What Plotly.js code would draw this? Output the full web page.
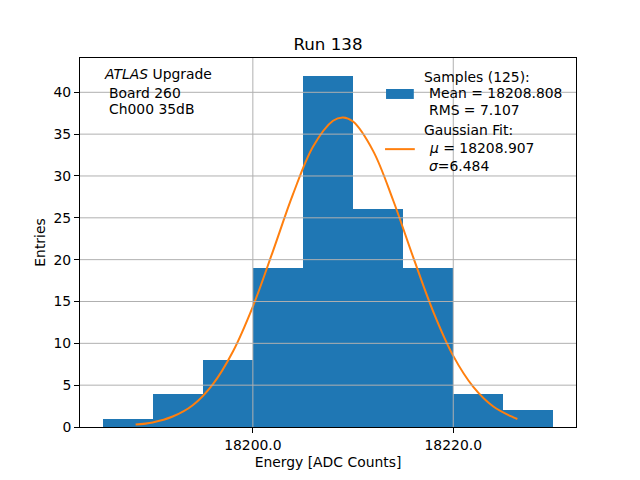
<!DOCTYPE html>
<html>
<head>
<meta charset="utf-8">
<script src="https://cdn.plot.ly/plotly-3.0.1.min.js"></script>
<style>
  html, body { margin: 0; padding: 0; background: #ffffff; }
  #chart { width: 640px; height: 480px; }
</style>
</head>
<body>
<div id="chart"></div>
<script>
// histogram bins (centres, width 5 ADC counts) and their entries
const binCentres = [18187.5, 18192.5, 18197.5, 18202.5, 18207.5, 18212.5, 18217.5, 18222.5, 18227.5];
const binCounts  = [1, 4, 8, 19, 42, 26, 19, 4, 2];

// gaussian fit curve
const fitX = [18188.3, 18190, 18192, 18194, 18196, 18198, 18200, 18202, 18204, 18206, 18208, 18209,
              18210, 18212, 18214, 18216, 18218, 18220, 18222, 18224, 18226, 18226.4];
const fitY = [0.3, 0.55, 1.25, 2.6, 5.1, 9.0, 14.4, 21.0, 27.8, 33.5, 36.6, 37.0,
              36.5, 33.0, 27.1, 20.3, 13.8, 8.5, 4.8, 2.45, 1.15, 0.95];

const xTickVals = [18200, 18220];
const xTickText = ['18200.0', '18220.0'];
const yTickVals = [0, 5, 10, 15, 20, 25, 30, 35, 40];

const font = 'DejaVu Sans, Liberation Sans, sans-serif';

const traceHist = {
    x: binCentres, y: binCounts, type: 'bar', width: 5,
    marker: { color: '#1f77b4', line: { width: 0 } },
    hoverinfo: 'skip', showlegend: false
};

const traceFit = {
    x: fitX, y: fitY, type: 'scatter', mode: 'lines',
    line: { color: '#ff7f0e', width: 2, shape: 'spline' },
    hoverinfo: 'skip', showlegend: false
};

// grid drawn on top of the bars like matplotlib does here
const gridShapes = [];
xTickVals.forEach(v => gridShapes.push({
    type: 'line', xref: 'x', yref: 'paper', x0: v, x1: v, y0: 0, y1: 1,
    line: { color: '#b0b0b0', width: 1 }, layer: 'above'
}));
yTickVals.filter(v => v > 0).forEach(v => gridShapes.push({
    type: 'line', xref: 'paper', yref: 'y', x0: 0, x1: 1, y0: v, y1: v,
    line: { color: '#b0b0b0', width: 1 }, layer: 'above'
}));

// hand made legend handles
const legendShapes = [
    { type: 'rect', xref: 'paper', yref: 'paper', x0: 0.617, x1: 0.673, y0: 0.889, y1: 0.916,
      fillcolor: '#1f77b4', line: { width: 0 }, layer: 'above' },
    { type: 'line', xref: 'paper', yref: 'paper', x0: 0.615, x1: 0.675, y0: 0.753, y1: 0.753,
      line: { color: '#ff7f0e', width: 2 }, layer: 'above' }
];

function txt(text, x, y) {
    return { text: text, xref: 'paper', yref: 'paper', x: x, y: y,
             xanchor: 'left', yanchor: 'middle', showarrow: false,
             font: { family: font, size: 13.9, color: '#000000' } };
}

const annotations = [
    txt('<i>ATLAS</i> Upgrade', 0.0444, 0.957),
    txt('Board 260', 0.0545, 0.906),
    txt('Ch000 35dB', 0.0545, 0.8625),
    txt('Samples (125):', 0.6896, 0.949),
    txt('Mean = 18208.808', 0.6996, 0.906),
    txt('RMS = 7.107', 0.6996, 0.860),
    txt('Gaussian Fit:', 0.6896, 0.8056),
    txt('<i>μ</i> = 18208.907', 0.6996, 0.7568),
    txt('<i>σ</i>=6.484', 0.6996, 0.708)
];

const layout = {
    width: 640, height: 480,
    paper_bgcolor: '#ffffff', plot_bgcolor: '#ffffff',
    margin: { l: 80, r: 64, t: 58, b: 53 },
    font: { family: font, size: 13.9, color: '#000000' },
    title: { text: 'Run 138', x: 0.5125, xanchor: 'center', y: 0.908, yanchor: 'middle',
             font: { family: font, size: 16.7, color: '#000000' } },
    bargap: 0,
    showlegend: false,
    xaxis: {
        range: [18182.75, 18232.25],
        tickvals: xTickVals, ticktext: xTickText,
        ticks: 'outside', ticklen: 5, tickwidth: 1, tickcolor: '#000000',
        showgrid: false, zeroline: false,
        showline: true, mirror: true, linecolor: '#000000', linewidth: 1,
        tickfont: { family: font, size: 13.9, color: '#000000' },
        title: { text: 'Energy [ADC Counts]', standoff: 5, font: { family: font, size: 13.9, color: '#000000' } }
    },
    yaxis: {
        range: [0, 44.1],
        tickvals: yTickVals,
        ticks: 'outside', ticklen: 5, tickwidth: 1, tickcolor: '#000000',
        showgrid: false, zeroline: false,
        showline: true, mirror: true, linecolor: '#000000', linewidth: 1,
        tickfont: { family: font, size: 13.9, color: '#000000' },
        title: { text: 'Entries', standoff: 4, font: { family: font, size: 13.9, color: '#000000' } }
    },
    shapes: gridShapes.concat(legendShapes),
    annotations: annotations
};

Plotly.newPlot('chart', [traceHist, traceFit], layout, { displayModeBar: false, staticPlot: true });
</script>
</body>
</html>
